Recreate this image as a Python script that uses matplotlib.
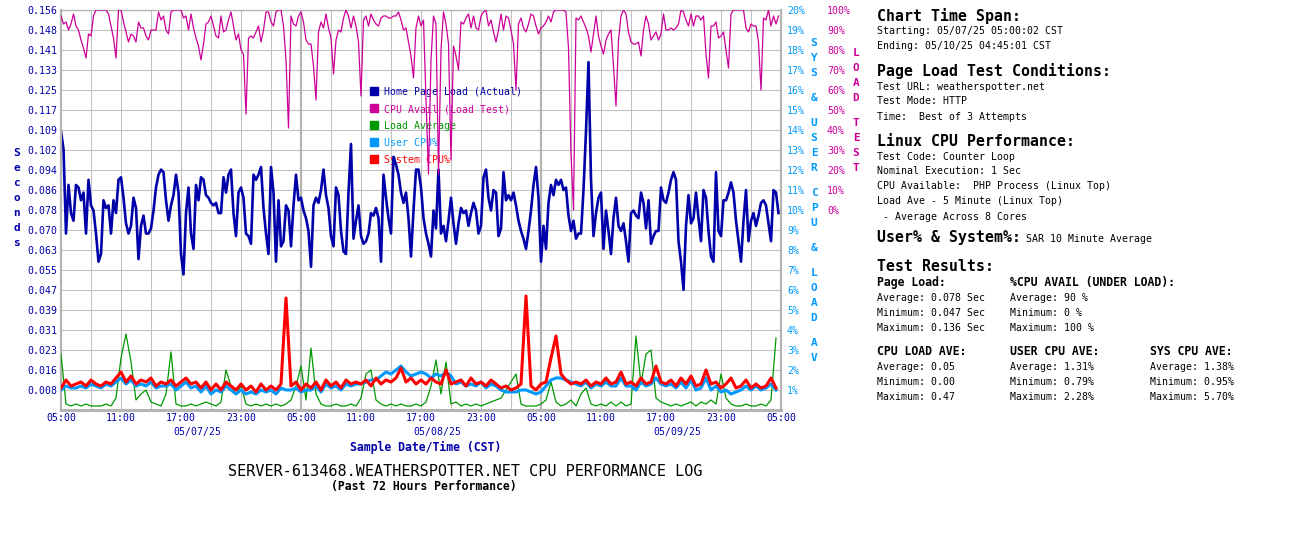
import numpy as np
import matplotlib
matplotlib.use("Agg")
import matplotlib.pyplot as plt
import matplotlib.transforms as mtransforms
from matplotlib.patches import Rectangle

W, H = 1300, 550
MONO = "DejaVu Sans Mono"
plt.rcParams["font.family"] = MONO

# hours after 05/07/25 05:00 CST
hours_15 = np.arange(288) * 0.25   # 15 minute page load / load test samples
hours_30 = np.arange(144) * 0.5    # 30 minute readings for load / SAR

# home page load time (sec), every 15 min
page_load = [
    0.109, 0.102, 0.069, 0.088, 0.077, 0.074, 0.088, 0.087, 0.082, 0.085,
    0.069, 0.090, 0.080, 0.078, 0.069, 0.058, 0.061, 0.082, 0.079, 0.080,
    0.069, 0.082, 0.077, 0.090, 0.091, 0.083, 0.073, 0.069, 0.072, 0.083,
    0.079, 0.059, 0.072, 0.076, 0.069, 0.069, 0.071, 0.078, 0.087, 0.092,
    0.094, 0.093, 0.082, 0.074, 0.080, 0.084, 0.092, 0.085, 0.061, 0.053,
    0.077, 0.087, 0.069, 0.063, 0.088, 0.082, 0.091, 0.090, 0.084, 0.083,
    0.081, 0.080, 0.081, 0.077, 0.077, 0.091, 0.085, 0.092, 0.094, 0.077,
    0.068, 0.085,
    0.087, 0.083, 0.069, 0.068, 0.065, 0.092, 0.090, 0.092, 0.095, 0.079,
    0.069, 0.061, 0.095, 0.085, 0.058, 0.082, 0.064, 0.066, 0.080, 0.078,
    0.064, 0.080, 0.092, 0.082, 0.083, 0.078, 0.075, 0.070, 0.056, 0.080,
    0.083, 0.081, 0.086, 0.094, 0.084, 0.079, 0.068, 0.064, 0.087, 0.084,
    0.070, 0.062, 0.061, 0.085, 0.104, 0.067, 0.074, 0.080, 0.068, 0.065,
    0.066, 0.069, 0.077, 0.076, 0.079, 0.075, 0.058, 0.092, 0.083, 0.075,
    0.069, 0.099, 0.096, 0.092, 0.085, 0.081, 0.085, 0.075, 0.060, 0.078,
    0.094, 0.094,
    0.087, 0.075, 0.069, 0.065, 0.060, 0.078, 0.071, 0.094, 0.069, 0.072,
    0.066, 0.074, 0.083, 0.073, 0.065, 0.073, 0.079, 0.077, 0.078, 0.072,
    0.077, 0.081, 0.078, 0.069, 0.072, 0.091, 0.094, 0.083, 0.078, 0.086,
    0.085, 0.068, 0.071, 0.093, 0.082, 0.084, 0.082, 0.085, 0.080, 0.074,
    0.070, 0.067, 0.063, 0.070, 0.078, 0.088, 0.095, 0.083, 0.058, 0.072,
    0.063, 0.081, 0.088, 0.084, 0.090, 0.088, 0.090, 0.086, 0.087, 0.076,
    0.070, 0.074, 0.067, 0.069, 0.069, 0.086, 0.109, 0.136, 0.090, 0.068,
    0.077, 0.083,
    0.085, 0.063, 0.078, 0.070, 0.061, 0.075, 0.083, 0.072, 0.070, 0.073,
    0.066, 0.058, 0.077, 0.078, 0.076, 0.075, 0.085, 0.081, 0.071, 0.082,
    0.065, 0.068, 0.070, 0.070, 0.087, 0.082, 0.081, 0.085, 0.090, 0.093,
    0.090, 0.066, 0.058, 0.047, 0.072, 0.084, 0.073, 0.075, 0.085, 0.075,
    0.066, 0.086, 0.083, 0.070, 0.060, 0.058, 0.093, 0.070, 0.068, 0.082,
    0.082, 0.085, 0.089, 0.085, 0.074, 0.066, 0.058, 0.074, 0.086, 0.066,
    0.074, 0.077, 0.072, 0.076, 0.081, 0.082, 0.080, 0.073, 0.066, 0.086,
    0.085, 0.077,
]

# CPU available under load test (%), every 15 min
cpu_avail = [
    97, 93, 94, 90, 93, 98, 92, 90, 85, 81,
    76, 88, 87, 97, 100, 100, 100, 100, 100, 98,
    92, 86, 76, 100, 100, 94, 89, 84, 88, 87,
    84, 94, 91, 91, 87, 85, 90, 90, 90, 99,
    95, 97, 90, 88, 99, 100, 100, 100, 100, 96,
    97, 90, 98, 91, 86, 82, 75, 83, 93, 94,
    97, 92, 87, 86, 97, 89, 90, 95, 99, 92,
    85, 88,
    80, 78, 48, 86, 87, 86, 89, 92, 84, 90,
    99, 99, 94, 92, 99, 100, 100, 92, 75, 41,
    97, 93, 92, 97, 99, 94, 85, 83, 83, 72,
    55, 89, 94, 91, 98, 91, 86, 68, 85, 90,
    89, 96, 100, 97, 91, 97, 92, 84, 57, 95,
    97, 92, 98, 95, 93, 92, 96, 97, 97, 96,
    96, 97, 97, 99, 95, 90, 91, 84, 77, 66,
    91, 97,
    92, 95, 55, 18, 75, 97, 93, 18, 80, 99,
    93, 83, 25, 82, 77, 70, 94, 93, 96, 98,
    91, 97, 91, 90, 97, 99, 100, 92, 95, 89,
    84, 90, 98, 90, 97, 96, 90, 83, 60, 93,
    96, 91, 89, 93, 98, 97, 92, 88, 91, 92,
    94, 97, 94, 99, 100, 100, 100, 100, 99, 81,
    28, 0, 96, 95, 97, 94, 91, 87, 79, 88,
    97, 87,
    82, 78, 85, 88, 90, 72, 52, 85, 97, 100,
    98, 89, 84, 83, 83, 84, 77, 90, 97, 93,
    85, 87, 89, 85, 88, 98, 90, 90, 91, 90,
    91, 93, 100, 99, 95, 92, 98, 92, 97, 97,
    95, 97, 78, 66, 92, 92, 94, 86, 87, 89,
    80, 71, 98, 100, 100, 100, 100, 100, 91, 89,
    93, 92, 92, 84, 60, 96, 95, 100, 92, 97,
    93, 97,
]

# 5 minute load average, every 30 min
load_ave = [
    0.28, 0.03, 0.02, 0.03, 0.02, 0.03, 0.02, 0.02, 0.02, 0.03,
    0.02, 0.06, 0.26, 0.38, 0.24, 0.05, 0.08, 0.10, 0.04, 0.03,
    0.02, 0.08, 0.29, 0.03, 0.02, 0.02, 0.03, 0.02, 0.03, 0.04,
    0.03, 0.02, 0.04, 0.20, 0.12, 0.08, 0.12, 0.03, 0.02, 0.03,
    0.02, 0.03, 0.02, 0.03, 0.02, 0.03, 0.05, 0.12, 0.22, 0.05,
    0.31, 0.08, 0.03, 0.02, 0.02, 0.03, 0.02, 0.02, 0.03, 0.02,
    0.06, 0.18, 0.20, 0.05, 0.03, 0.02, 0.03, 0.02, 0.03, 0.02,
    0.02, 0.03, 0.02, 0.04, 0.12, 0.25, 0.08, 0.24, 0.03, 0.04,
    0.02, 0.03, 0.02, 0.03, 0.02, 0.03, 0.04, 0.05, 0.06, 0.10,
    0.14, 0.18, 0.03, 0.02, 0.02, 0.02, 0.03, 0.05, 0.14, 0.04,
    0.02, 0.03, 0.05, 0.02, 0.08, 0.11, 0.03, 0.02, 0.03, 0.02,
    0.04, 0.02, 0.04, 0.02, 0.03, 0.37, 0.13, 0.28, 0.30, 0.06,
    0.04, 0.03, 0.02, 0.03, 0.02, 0.03, 0.04, 0.02, 0.04, 0.03,
    0.05, 0.03, 0.18, 0.06, 0.03, 0.02, 0.02, 0.03, 0.02, 0.02,
    0.03, 0.02, 0.05, 0.36,
]

# SAR user / system CPU (%), every 30 min
user_cpu = [
    1.0, 1.2, 1.1, 1.1, 1.2, 1.1, 1.3, 1.2, 1.1, 1.3, 1.2,
    1.4, 1.6, 1.3, 1.5, 1.2, 1.3, 1.2,
    1.4, 1.1, 1.2, 1.2, 1.3, 1.0, 1.2, 1.4, 1.1, 1.2,
    0.9, 1.2, 0.8, 1.0, 0.9, 1.2, 1.0, 0.8,
    1.0, 0.8, 0.9, 0.8, 1.0, 0.9, 1.0, 0.8, 1.1,
    1.0,
    1.0, 1.1, 0.9, 1.0,
    1.0, 1.2, 0.9, 1.3, 1.1, 1.2, 1.0, 1.3, 1.2, 1.3,
    1.3, 1.4, 1.5, 1.5, 1.7, 1.9, 1.8, 2.0, 2.2, 1.9,
    1.7, 1.8, 1.9, 1.8, 1.6, 1.8, 1.7, 1.9, 1.7,
    1.3, 1.4, 1.2, 1.3, 1.2, 1.4, 1.1, 1.3, 1.2, 1.0, 0.9, 0.9,
    0.9, 1.0, 1.0, 0.9, 0.8, 0.9, 1.2, 1.5, 1.6, 1.6, 1.5, 1.4,
    1.3, 1.2, 1.4, 1.1, 1.3, 1.2, 1.4, 1.2, 1.2, 1.6,
    1.2, 1.2, 1.0, 1.4, 1.2, 1.3, 1.6, 1.3, 1.2, 1.3,
    1.1, 1.4, 1.1, 1.5, 1.0, 1.1, 1.6, 1.0, 1.2, 0.9,
    1.0, 0.8, 0.9, 1.0, 1.2, 1.0, 1.2, 1.0, 1.1, 1.3,
    1.0,
]
sys_cpu = [
    1.1, 1.5, 1.2, 1.3, 1.4, 1.2, 1.5, 1.3, 1.2, 1.4, 1.3,
    1.6, 1.9, 1.4, 1.7, 1.3, 1.5, 1.4,
    1.6, 1.2, 1.4, 1.3, 1.5, 1.2, 1.4, 1.6, 1.3, 1.4,
    1.1, 1.4, 1.0, 1.3, 1.0, 1.4, 1.2, 1.0,
    1.3, 1.0, 1.2, 0.9, 1.3, 1.0, 1.2, 1.0, 1.3,
    5.6,
    1.2, 1.4, 1.0, 1.3,
    1.1, 1.4, 1.0, 1.5, 1.2, 1.4, 1.1, 1.5, 1.3, 1.4,
    1.3, 1.5, 1.2, 1.6, 1.3, 1.5, 1.4, 1.6, 2.1, 1.4,
    1.6, 1.3, 1.5, 1.3, 1.6, 1.4, 1.3, 2.0, 1.3,
    1.4, 1.5, 1.2, 1.6, 1.3, 1.4, 1.2, 1.5, 1.3, 1.1, 1.2, 1.0,
    1.1, 1.3, 5.7, 1.2, 1.0, 1.3, 1.4, 2.6, 3.7, 1.8, 1.5, 1.3,
    1.4, 1.3, 1.5, 1.2, 1.4, 1.3, 1.6, 1.3, 1.4, 1.9,
    1.3, 1.4, 1.2, 1.6, 1.3, 1.4, 2.2, 1.4, 1.3, 1.5,
    1.2, 1.6, 1.3, 1.7, 1.2, 1.3, 2.0, 1.3, 1.4, 1.1,
    1.3, 1.6, 1.1, 1.2, 1.5, 1.1, 1.3, 1.1, 1.2, 1.6,
    1.1,
]

x_tick_labels = ["05:00", "11:00", "17:00", "23:00"] * 3 + ["05:00"]
date_labels = ["05/07/25", "05/08/25", "05/09/25"]
date_label_hours = [13.6, 37.6, 61.6]
sec_tick_labels = ["0.008", "0.016", "0.023", "0.031", "0.039", "0.047", "0.055",
                   "0.063", "0.070", "0.078", "0.086", "0.094", "0.102", "0.109",
                   "0.117", "0.125", "0.133", "0.141", "0.148", "0.156"]
cpu_tick_labels = [f"{v}%" for v in range(1, 21)]
load_tick_labels = [f"{v}%" for v in range(0, 101, 10)]

legend_items = [
    ("Home Page Load (Actual)", "#0000aa"),
    ("CPU Avail (Load Test)", "#cc0099"),
    ("Load Average", "#009900"),
    ("User CPU%", "#0099ff"),
    ("System CPU%", "#ff0000"),
]

DARK_BLUE = "#0000aa"
LIGHT_BLUE = "#0099ff"
MAGENTA = "#cc0099"
GRID = "#c0c0c0"
SEC_MAX = 0.1564


def fx(px):
    return px / W


def fy(py):
    return 1 - py / H


fig = plt.figure(figsize=(13, 5.5), dpi=100)
ax = fig.add_axes([fx(61), fy(410), 720 / W, 400 / H])
ax_cpu = ax.twinx()
ax_load = ax.twinx()

# grid
ax.set_xlim(0, 72)
ax.set_ylim(0, SEC_MAX)
ax.set_xticks(np.arange(0, 73, 6))
ax.set_xticklabels(x_tick_labels)
ax.set_xticks(np.arange(3, 72, 6), minor=True)
ax.set_yticks(np.linspace(0, SEC_MAX, 21)[1:])
ax.set_yticklabels(sec_tick_labels)
ax.set_axisbelow(True)
ax.grid(True, which="both", color=GRID, lw=0.75)
for d in (24, 48):
    ax.axvline(d, color="#b4b4b4", lw=1.6, zorder=0.6)
ax.tick_params(axis="both", which="both", length=0, labelsize=7.1,
               labelcolor=DARK_BLUE, pad=2.5)
for side, lw in (("left", 1.6), ("bottom", 2.2), ("right", 1.6), ("top", 1.0)):
    ax.spines[side].set_color("#b4b4b4")
    ax.spines[side].set_linewidth(lw)

# legend sits under the lines
for i, (label, color) in enumerate(legend_items):
    cy = 91 + 17 * i
    ax.add_patch(Rectangle(((370 - 61) / 720, (410 - cy - 4) / 400), 8 / 720, 8 / 400,
                           transform=ax.transAxes, color=color, zorder=1))
    ax.text((384 - 61) / 720, (410 - cy - 4) / 400, label, transform=ax.transAxes,
            color=color, fontsize=7.1, va="baseline", ha="left", zorder=1)

ax.plot(hours_15, page_load, color=DARK_BLUE, lw=1.9, zorder=2)

ax_cpu.set_ylim(0, 20)
ax_cpu.set_yticks(np.arange(1, 21))
ax_cpu.set_yticklabels(cpu_tick_labels)
ax_cpu.tick_params(axis="y", length=0, pad=4.3, labelsize=7.1, labelcolor=LIGHT_BLUE)
ax_cpu.plot(hours_30, np.array(load_ave) * 10, color="#009900", lw=0.9)
ax_cpu.plot(hours_30, user_cpu, color=LIGHT_BLUE, lw=2.2)
ax_cpu.plot(hours_30, sys_cpu, color="#ff0000", lw=2.2)

ax_load.set_ylim(-100, 100)
ax_load.set_yticks(np.arange(0, 101, 10))
ax_load.set_yticklabels(load_tick_labels)
ax_load.tick_params(axis="y", length=0, pad=33.1, labelsize=7.1, labelcolor=MAGENTA)
ax_load.plot(hours_15, cpu_avail, color=MAGENTA, lw=0.9)

for a in (ax_cpu, ax_load):
    for s in a.spines.values():
        s.set_visible(False)

# date labels under the time ticks
trans = mtransforms.blended_transform_factory(ax.transData, fig.transFigure)
for h, lab in zip(date_label_hours, date_labels):
    ax.text(h, fy(435), lab, transform=trans, ha="center", va="baseline",
            fontsize=7.1, color=DARK_BLUE)


def stacked(text, x, y0, color):
    y = y0
    for ch in text:
        if ch == " ":
            y += 10
            continue
        fig.text(fx(x), fy(y), ch, ha="center", va="baseline", fontsize=8,
                 fontweight="bold", color=color)
        y += 15


stacked("Seconds", 17, 156, DARK_BLUE)
stacked("SYS & USER CPU & LOAD AV", 814, 46, LIGHT_BLUE)
stacked("LOAD TEST", 856, 56, MAGENTA)

fig.text(fx(426), fy(451), "Sample Date/Time (CST)", ha="center", va="baseline",
         fontsize=8.3, fontweight="bold", color=DARK_BLUE)
fig.text(fx(465), fy(476), "SERVER-613468.WEATHERSPOTTER.NET CPU PERFORMANCE LOG",
         ha="center", va="baseline", fontsize=10.9)
fig.text(fx(424), fy(490), "(Past 72 Hours Performance)", ha="center",
         va="baseline", fontsize=8.3, fontweight="bold")


# info panel
def head(x, y, s):
    fig.text(fx(x), fy(y), s, ha="left", va="baseline", fontsize=10.7,
             fontweight="bold")


def body(x, y, s, bold=False):
    fig.text(fx(x), fy(y), s, ha="left", va="baseline",
             fontsize=8.3 if bold else 7.15,
             fontweight="bold" if bold else "normal")


head(877, 21, "Chart Time Span:")
body(877, 34, "Starting: 05/07/25 05:00:02 CST")
body(877, 49, "Ending: 05/10/25 04:45:01 CST")

head(877, 76, "Page Load Test Conditions:")
for i, s in enumerate(["Test URL: weatherspotter.net", "Test Mode: HTTP",
                       "Time:  Best of 3 Attempts"]):
    body(877, 89.5 + 15 * i, s)

head(877, 146, "Linux CPU Performance:")
for i, s in enumerate(["Test Code: Counter Loop", "Nominal Execution: 1 Sec",
                       "CPU Available:  PHP Process (Linux Top)",
                       "Load Ave - 5 Minute (Linux Top)",
                       " - Average Across 8 Cores"]):
    body(877, 159.5 + 15 * i, s)

head(877, 242, "User% & System%:")
body(1026, 242, "SAR 10 Minute Average")

head(877, 271, "Test Results:")
result_blocks = [
    (877, 286, "Page Load:", ["Average: 0.078 Sec", "Minimum: 0.047 Sec", "Maximum: 0.136 Sec"]),
    (1010, 286, "%CPU AVAIL (UNDER LOAD):", ["Average: 90 %", "Minimum: 0 %", "Maximum: 100 %"]),
    (877, 355, "CPU LOAD AVE:", ["Average: 0.05", "Minimum: 0.00", "Maximum: 0.47"]),
    (1010, 355, "USER CPU AVE:", ["Average: 1.31%", "Minimum: 0.79%", "Maximum: 2.28%"]),
    (1150, 355, "SYS CPU AVE:", ["Average: 1.38%", "Minimum: 0.95%", "Maximum: 5.70%"]),
]
for x, y, title, rows in result_blocks:
    body(x, y, title, bold=True)
    for i, s in enumerate(rows):
        body(x, y + 15 + 15 * i, s)

fig.savefig("out.png", dpi=100)
